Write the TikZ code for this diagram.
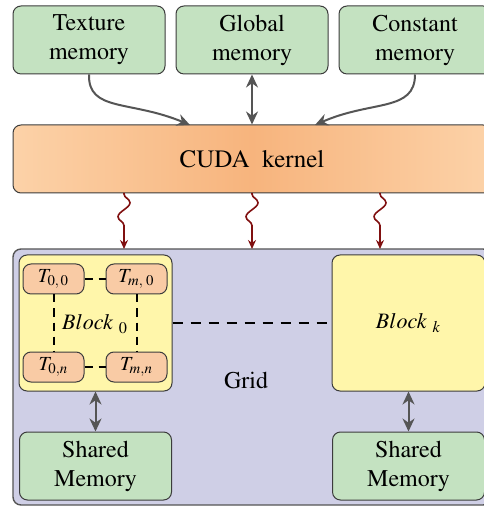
\documentclass[tikz,border=0pt]{standalone}
\usepackage[T1]{fontenc}
\usepackage{mathptmx}
\usetikzlibrary{arrows.meta,decorations.pathmorphing,shapes.misc}

\definecolor{memgreen}{RGB}{196,226,193}
\definecolor{kedge}{RGB}{252,210,168}
\definecolor{kmid}{RGB}{247,180,125}
\definecolor{gridfill}{RGB}{207,207,230}
\definecolor{blockfill}{RGB}{255,246,170}
\definecolor{threadfill}{RGB}{249,203,165}
\definecolor{edgegray}{RGB}{60,60,60}
\definecolor{arrowgray}{RGB}{85,85,85}
\definecolor{wavered}{RGB}{128,16,16}

\tikzset{
  box/.style={draw=edgegray, line width=0.5pt, rounded corners=4pt,
    inner sep=0pt, align=center},
  membox/.style={box, fill=memgreen, minimum width=76pt, minimum height=34pt,
    font=\fontsize{12}{14.5}\selectfont},
  blockbox/.style={box, fill=blockfill, minimum width=76.5pt, minimum height=68pt},
  threadbox/.style={box, fill=threadfill, minimum width=30.5pt, minimum height=15pt,
    rounded corners=4pt, font=\fontsize{10}{12}\selectfont},
  memarrow/.style={draw=arrowgray, line width=1pt,
    -{Stealth[length=6.5pt,width=6pt]}},
  duplex/.style={draw=arrowgray, line width=1pt,
    {Stealth[length=6.5pt,width=6pt]}-{Stealth[length=6.5pt,width=6pt]}},
  launch/.style={draw=wavered, line width=0.8pt, -{Stealth[length=4.5pt,width=4pt]},
    decorate, decoration={snake, amplitude=3pt, segment length=14pt,
      pre length=0.5pt, post length=9pt}},
  tdash/.style={line width=1pt, dash pattern=on 4pt off 3pt}
}

\begin{document}
\begin{tikzpicture}[x=0.5pt, y=-0.5pt]
  \useasboundingbox (0,0) rectangle (483,506);

  % memory spaces
  \node[membox] (tex)   at (89,40)  {Texture\\memory};
  \node[membox] (glob)  at (252,40) {Global\\memory};
  \node[membox] (const) at (415,40) {Constant\\memory};

  % kernel
  \node[box, minimum width=239pt, minimum height=34pt,
        left color=kedge, right color=kedge, middle color=kmid,
        font=\fontsize{12.5}{15}\selectfont] (kernel) at (252,159) {CUDA\ \ kernel};

  % grid
  \node[box, draw=arrowgray, line width=0.7pt, fill=gridfill,
        minimum width=239pt, minimum height=128pt] (grid) at (252,377) {};
  \node[font=\fontsize{12}{14.5}\selectfont] (gridlabel) at (246,380) {Grid};

  % blocks
  \node[blockbox] (b0) at (95.5,323) {};
  \node[font=\fontsize{11}{13}\selectfont] (b0label) at (95,324) {$Block\ {}_{0}$};
  \node[blockbox, font=\fontsize{11}{13}\selectfont] (bk) at (408.5,323) {$Block\ {}_{k}$};

  % threads of block 0
  \node[threadbox] (t00) at (53.5,279)  {$T_{0,\,0}$};
  \node[threadbox] (tm0) at (136.5,279) {$T_{m,\;0}$};
  \node[threadbox] (t0n) at (53.5,367)  {$T_{0,n}$};
  \node[threadbox] (tmn) at (136.5,367) {$T_{m,n}$};

  % shared memories
  \node[membox] (sm0) at (95.5,466)  {Shared\\Memory};
  \node[membox] (smk) at (408.5,466) {Shared\\Memory};

  % end points on the kernel and the grid
  \coordinate (kin1) at (190,125);
  \coordinate (kin3) at (315,125);
  \coordinate (kout1) at (124,193);
  \coordinate (kout2) at (252,193);
  \coordinate (kout3) at (380,193);
  \coordinate (gin1) at (124,249);
  \coordinate (gin2) at (252,249);
  \coordinate (gin3) at (380,249);

  % memory accesses
  \draw[memarrow] (tex.south) .. controls (88,112) and (130,100) .. (kin1);
  \draw[memarrow] (const.south) .. controls (415,112) and (372,100) .. (kin3);
  \draw[duplex] (glob.south) -- (kernel.north);

  % kernel launches
  \draw[launch] (kout1) -- (gin1);
  \draw[launch] (kout2) -- (gin2);
  \draw[launch] (kout3) -- (gin3);

  % thread and block links
  \draw[tdash] (t00) -- (tm0);
  \draw[tdash] (t0n) -- (tmn);
  \draw[tdash] (t00) -- (t0n);
  \draw[tdash] (tm0) -- (tmn);
  \draw[tdash, dash pattern=on 5pt off 4pt] (b0) -- (bk);

  % shared memory accesses
  \draw[duplex] (b0.south) -- (sm0.north);
  \draw[duplex] (bk.south) -- (smk.north);
\end{tikzpicture}
\end{document}
